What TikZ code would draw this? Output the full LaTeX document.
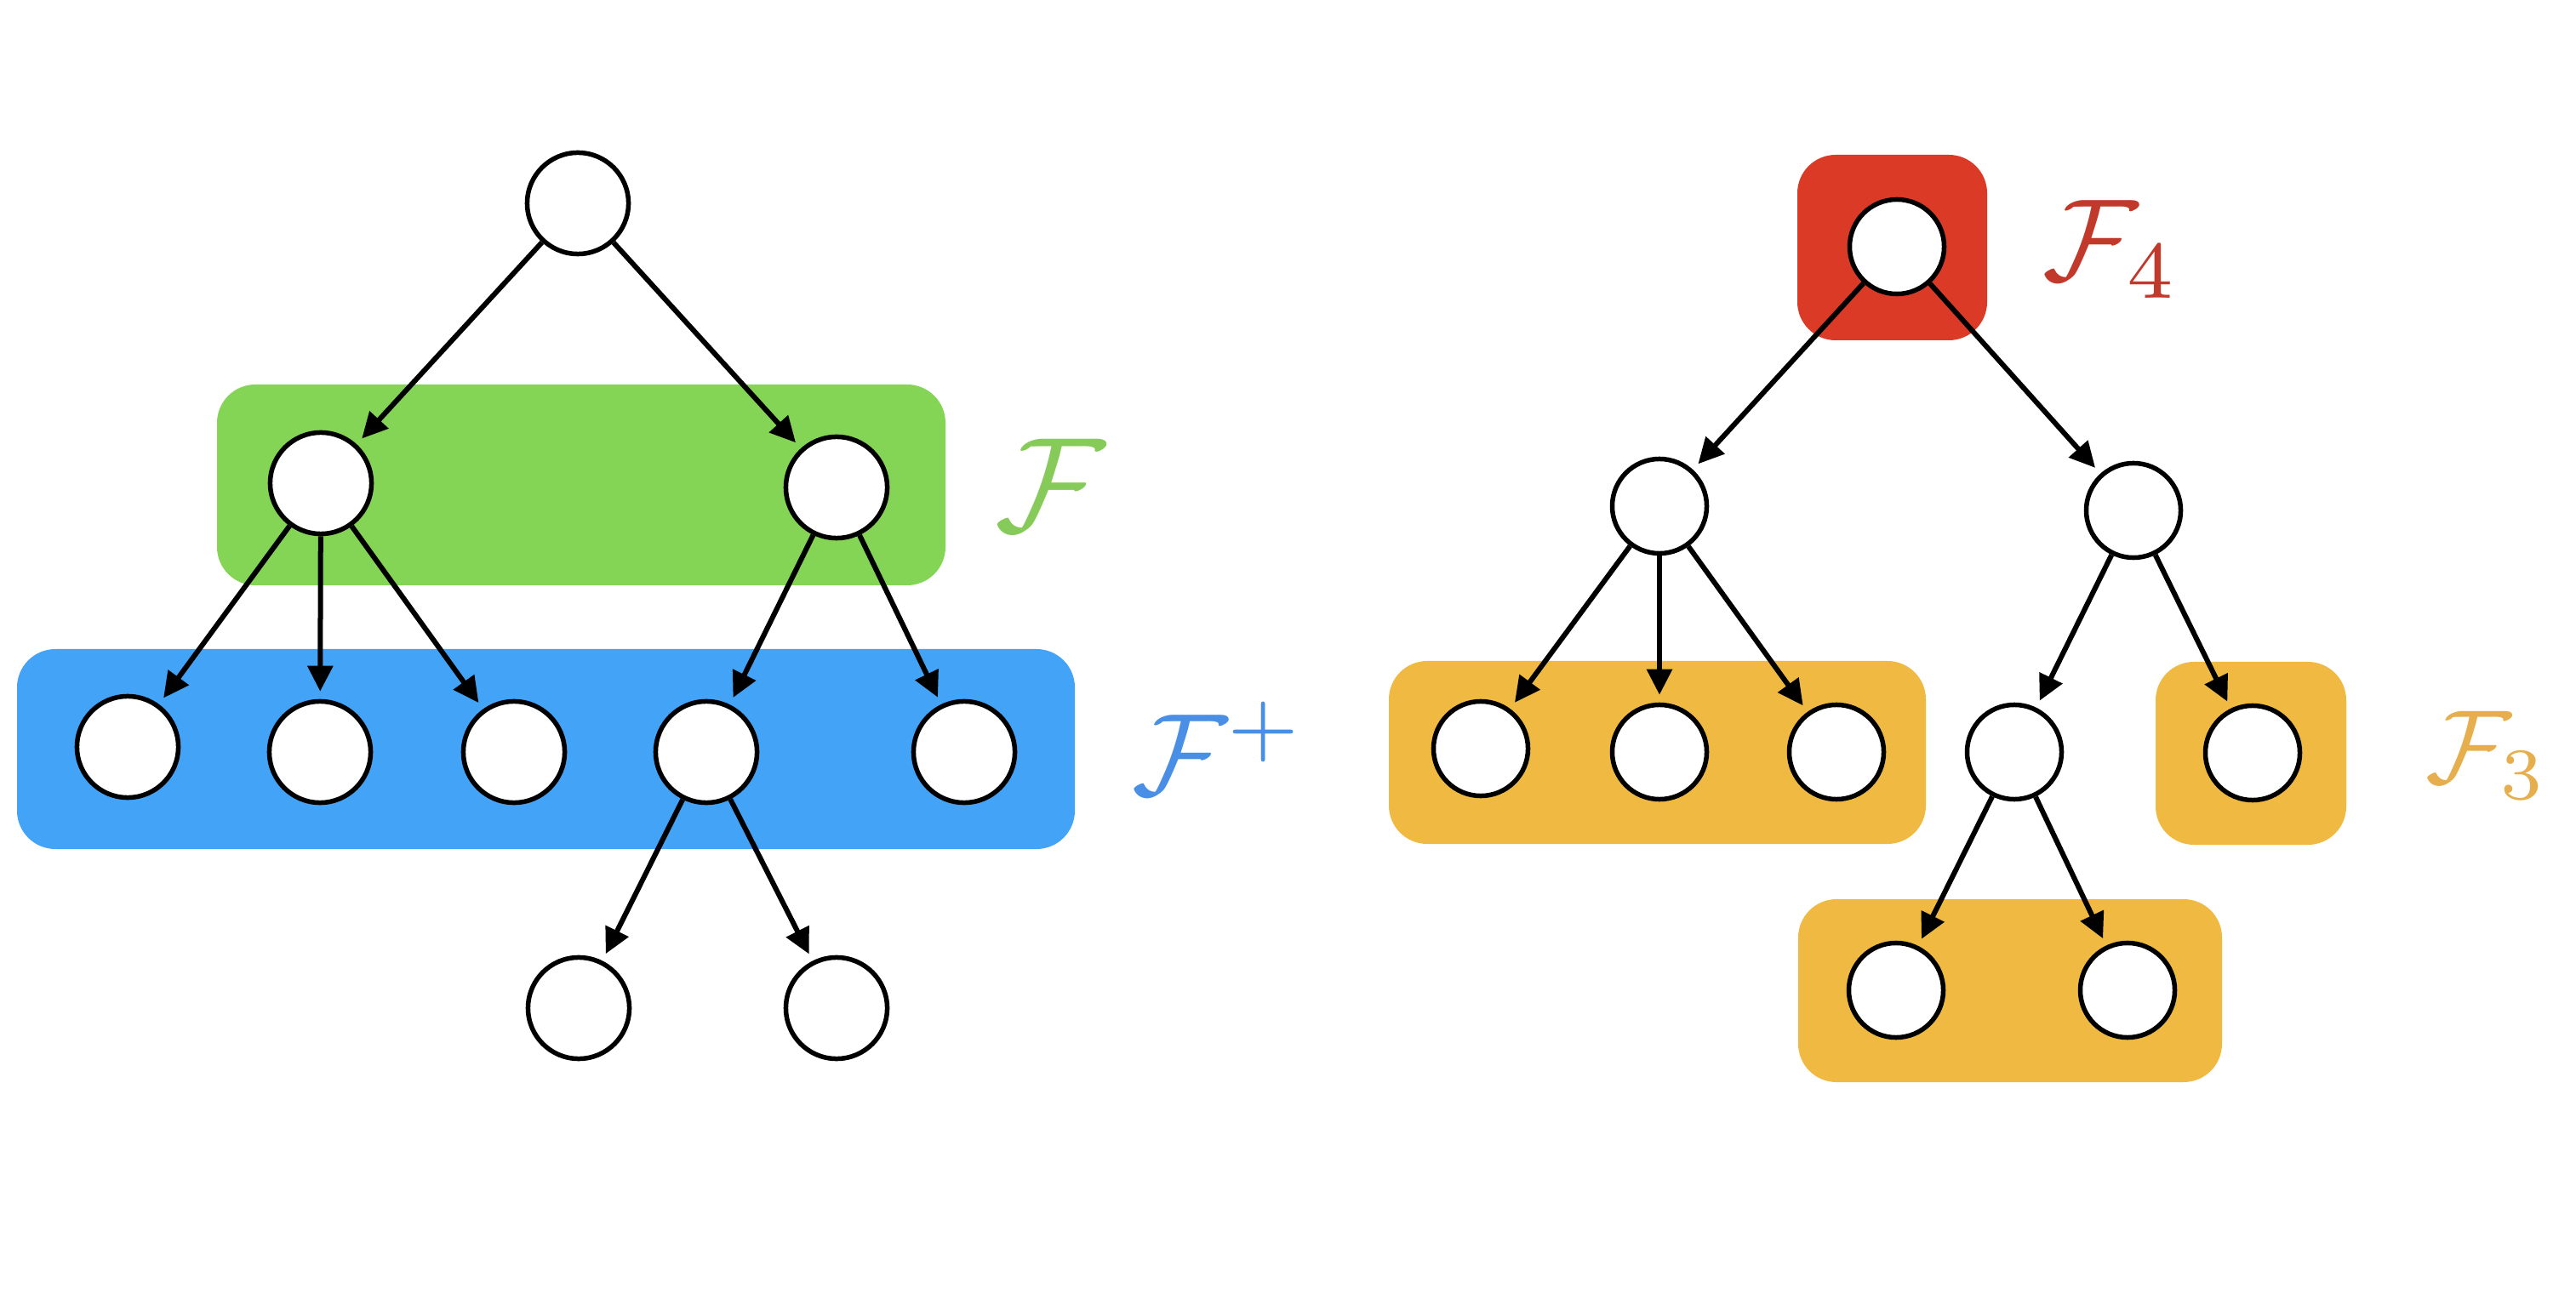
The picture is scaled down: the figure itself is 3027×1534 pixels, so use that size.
\documentclass[tikz,border=0pt]{standalone}
\usepackage{amsmath,amssymb}
\usetikzlibrary{arrows.meta}
\definecolor{Lime}{HTML}{84D455}
\definecolor{Azure}{HTML}{42A3F7}
\definecolor{Tomato}{HTML}{DB3B26}
\definecolor{Amber}{HTML}{F0BA42}
\definecolor{LimeInk}{HTML}{86CB5A}
\definecolor{AzureInk}{HTML}{4A8FE6}
\definecolor{TomatoInk}{HTML}{C0392B}
\definecolor{AmberInk}{HTML}{E6AE4C}

\begin{document}
\begin{tikzpicture}[x=0.01cm,y=-0.01cm,
    vert/.style={circle,draw,fill=white,line width=0.55mm,inner sep=0pt,minimum size=#1},
    vert/.default=1.19cm,
    edge/.style={-{Triangle[length=3mm,width=2.9mm]},line width=0.6mm,shorten >=0.9mm},
    band/.style={rounded corners=4.5mm}]
    \useasboundingbox (0,0) rectangle (3027,1534);
    % groups
    \fill[band,Lime] (255,452) rectangle (1111,688);
    \fill[band,Azure] (20,763) rectangle (1263,998);
    \fill[band,Tomato] (2112,182) rectangle (2335,400);
    \fill[band,Amber] (1632,777) rectangle (2263,992);
    \fill[band,Amber] (2533,778) rectangle (2757,993);
    \fill[band,Amber] (2113,1057) rectangle (2611,1272);
    % left tree
    \node[vert] (l0) at (679,239) {};
    \node[vert] (l1) at (377,568) {};
    \node[vert] (l2) at (983,573) {};
    \node[vert] (l11) at (150,878) {};
    \node[vert] (l12) at (376,884) {};
    \node[vert] (l13) at (604,884) {};
    \node[vert] (l21) at (830,884) {};
    \node[vert] (l22) at (1133,884) {};
    \node[vert] (l211) at (680,1185) {};
    \node[vert] (l212) at (983,1185) {};
    \draw[edge] (l0)--(l1);
    \draw[edge] (l0)--(l2);
    \draw[edge] (l1)--(l11);
    \draw[edge] (l1)--(l12);
    \draw[edge] (l1)--(l13);
    \draw[edge] (l2)--(l21);
    \draw[edge] (l2)--(l22);
    \draw[edge] (l21)--(l211);
    \draw[edge] (l21)--(l212);
    % right tree
    \node[vert=1.11cm] (r0) at (2229,290) {};
    \node[vert=1.11cm] (r1) at (1950,595) {};
    \node[vert=1.11cm] (r2) at (2507,600) {};
    \node[vert=1.11cm] (r11) at (1740,880) {};
    \node[vert=1.11cm] (r12) at (1950,884) {};
    \node[vert=1.11cm] (r13) at (2158,884) {};
    \node[vert=1.11cm] (r21) at (2367,884) {};
    \node[vert=1.11cm] (r22) at (2647,885) {};
    \node[vert=1.11cm] (r211) at (2228,1164) {};
    \node[vert=1.11cm] (r212) at (2500,1164) {};
    \draw[edge] (r0)--(r1);
    \draw[edge] (r0)--(r2);
    \draw[edge] (r1)--(r11);
    \draw[edge] (r1)--(r12);
    \draw[edge] (r1)--(r13);
    \draw[edge] (r2)--(r21);
    \draw[edge] (r2)--(r22);
    \draw[edge] (r21)--(r211);
    \draw[edge] (r21)--(r212);
    % labels
    \node[LimeInk,scale=4.5] (tagF) at (1234,570) {$\mathcal{F}$};
    \node[AzureInk,scale=3.9] (tagFp) at (1432,880) {$\mathcal{F}^{+}$};
    \node[TomatoInk,scale=3.9] (tagF4) at (2481,293) {$\mathcal{F}_4$};
    \node[AmberInk,scale=3.5] (tagF3) at (2922,888) {$\mathcal{F}_3$};
\end{tikzpicture}
\end{document}
